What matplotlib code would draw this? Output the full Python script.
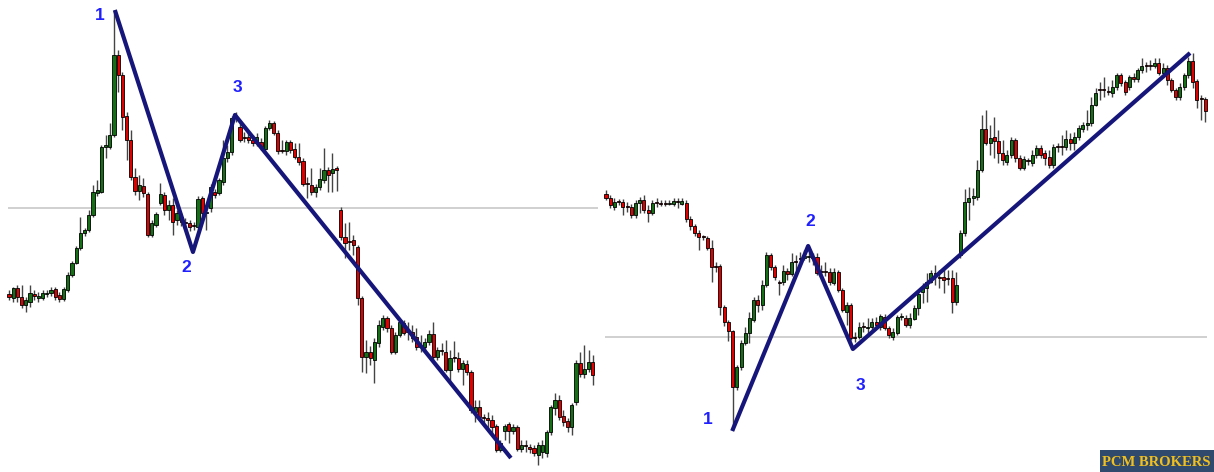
import matplotlib
matplotlib.use("Agg")
import matplotlib.pyplot as plt
from matplotlib.patches import Rectangle
import numpy as np

# ---- left chart (down move) : price units, one candle per index ----
left_open = [206, 202, 212, 203, 195, 198, 206, 202, 202, 206, 207, 211, 205, 201, 210, 225, 237, 252, 267, 270,
             285, 307, 308, 353, 353, 365, 445, 425, 384, 360, 323, 309, 314, 306, 265, 275, 297, 305, 290, 295,
             280, 283, 277, 277, 274, 273, 302, 287, 292, 308, 307, 318, 342, 348, 382, 373, 362, 363, 360, 357,
             358, 351, 372, 377, 367, 349, 349, 358, 351, 343, 339, 316, 315, 308, 313, 320, 330, 327, 332, 290,
             263, 258, 260, 253, 202, 143, 148, 140, 157, 173, 182, 172, 148, 165, 177, 168, 168, 163, 153, 153,
             158, 166, 143, 149, 148, 130, 142, 142, 131, 136, 128, 88, 93, 82, 82, 80, 74, 50, 69, 76,
             69, 73, 51, 54, 53, 52, 45, 48, 47, 68, 92, 100, 84, 79, 73, 98, 137, 126, 131, 138]
left_close = [203, 212, 203, 195, 200, 207, 204, 204, 207, 207, 210, 203, 201, 211, 225, 237, 252, 267, 270, 285,
              308, 310, 353, 355, 365, 445, 425, 383, 360, 323, 309, 315, 307, 265, 277, 286, 306, 290, 295, 278,
              287, 278, 276, 273, 273, 301, 287, 288, 313, 305, 320, 342, 348, 382, 383, 360, 361, 360, 357, 363,
              353, 372, 377, 367, 349, 348, 358, 350, 343, 338, 316, 315, 308, 313, 321, 330, 325, 331, 330, 263,
              257, 257, 255, 202, 143, 148, 142, 158, 175, 182, 172, 148, 165, 178, 167, 167, 162, 153, 152, 158,
              166, 143, 150, 148, 130, 142, 141, 131, 137, 128, 90, 93, 83, 81, 80, 73, 50, 57, 74, 69,
              73, 51, 55, 53, 51, 47, 55, 55, 68, 93, 100, 83, 78, 73, 95, 137, 126, 131, 138, 125]
left_high = [210, 213, 215, 215, 203, 215, 210, 208, 210, 210, 213, 213, 208, 213, 228, 239, 254, 283, 272, 290,
             315, 320, 355, 365, 377, 490, 450, 428, 388, 370, 332, 325, 322, 308, 280, 288, 317, 308, 300, 302,
             290, 287, 282, 280, 278, 304, 304, 295, 316, 311, 322, 360, 355, 384, 388, 380, 368, 370, 365, 367,
             362, 374, 380, 379, 370, 360, 360, 360, 357, 357, 342, 323, 332, 316, 332, 352, 333, 347, 334, 293,
             277, 278, 265, 255, 204, 160, 154, 162, 180, 185, 184, 175, 168, 180, 180, 178, 175, 172, 165, 162,
             170, 178, 153, 157, 160, 150, 159, 148, 140, 140, 130, 100, 100, 86, 88, 85, 76, 60, 76, 78,
             76, 75, 60, 60, 56, 55, 58, 60, 70, 95, 107, 105, 90, 82, 97, 140, 148, 155, 150, 145]
left_low = [200, 198, 198, 192, 188, 193, 200, 198, 200, 203, 204, 200, 198, 199, 208, 223, 236, 250, 264, 268,
            283, 304, 307, 342, 351, 363, 408, 370, 340, 320, 305, 300, 303, 263, 263, 273, 295, 285, 280, 265,
            275, 274, 270, 269, 270, 271, 284, 270, 288, 302, 305, 315, 338, 345, 378, 358, 358, 357, 354, 354,
            350, 349, 370, 365, 346, 347, 345, 347, 341, 335, 314, 302, 305, 303, 310, 317, 308, 308, 309, 260,
            242, 250, 245, 195, 128, 127, 135, 117, 153, 170, 168, 146, 146, 163, 165, 160, 158, 150, 148, 150,
            155, 140, 140, 145, 128, 117, 138, 128, 115, 125, 87, 78, 80, 77, 70, 65, 48, 48, 60, 57,
            66, 49, 48, 48, 47, 44, 35, 42, 43, 65, 85, 80, 74, 68, 65, 95, 123, 122, 128, 115]

# ---- right chart (up move) ----
right_open = [306, 302, 293, 298, 298, 293, 293, 285, 297, 300, 290, 287, 297, 296, 296, 296, 296, 298, 296, 297,
              281, 274, 267, 263, 262, 252, 233, 234, 193, 178, 169, 113, 133, 157, 167, 180, 200, 195, 215, 245,
              233, 217, 218, 229, 226, 238, 241, 242, 243, 242, 243, 228, 228, 228, 217, 228, 210, 188, 195, 162,
              163, 173, 172, 173, 178, 173, 183, 172, 163, 167, 183, 182, 175, 181, 192, 208, 212, 218, 226, 222,
              223, 221, 222, 198, 245, 267, 298, 302, 303, 330, 371, 357, 363, 359, 347, 338, 345, 360, 342, 332,
              339, 337, 345, 352, 347, 343, 335, 353, 353, 353, 361, 357, 363, 371, 375, 377, 395, 410, 410, 408,
              407, 413, 425, 418, 413, 423, 421, 430, 434, 434, 434, 437, 427, 432, 420, 410, 403, 413, 425, 439,
              419, 401, 401]
right_close = [302, 295, 298, 297, 293, 292, 285, 297, 300, 290, 287, 297, 296, 295, 295, 297, 299, 297, 299, 281,
               274, 267, 263, 262, 252, 233, 232, 193, 178, 169, 113, 133, 157, 167, 182, 200, 195, 215, 245, 233,
               223, 216, 229, 226, 238, 237, 240, 244, 244, 241, 227, 227, 227, 218, 228, 210, 190, 195, 162, 161,
               173, 172, 173, 178, 175, 184, 172, 165, 168, 183, 184, 175, 182, 192, 206, 212, 218, 227, 225, 221,
               220, 220, 198, 215, 267, 298, 302, 304, 330, 371, 357, 362, 359, 347, 340, 345, 360, 342, 332, 341,
               338, 345, 352, 345, 342, 335, 353, 352, 352, 361, 357, 363, 372, 375, 377, 395, 407, 409, 409, 407,
               413, 425, 417, 408, 423, 421, 430, 434, 433, 433, 437, 427, 432, 420, 410, 403, 413, 425, 439, 418,
               400, 400, 389]
right_high = [310, 305, 302, 301, 301, 298, 296, 300, 303, 305, 295, 300, 302, 300, 300, 300, 302, 302, 302, 300,
              284, 276, 270, 265, 264, 260, 238, 236, 195, 180, 170, 135, 160, 173, 188, 203, 205, 220, 248, 247,
              235, 220, 235, 232, 247, 245, 248, 250, 248, 247, 247, 235, 238, 232, 232, 230, 212, 198, 197, 168,
              178, 178, 182, 182, 183, 186, 186, 174, 172, 185, 187, 185, 187, 195, 210, 217, 227, 230, 235, 230,
              232, 230, 230, 228, 270, 311, 313, 312, 340, 385, 390, 375, 383, 370, 360, 350, 363, 362, 345, 344,
              342, 350, 355, 355, 350, 350, 356, 357, 365, 370, 367, 368, 375, 378, 390, 403, 412, 418, 423, 414,
              420, 427, 427, 420, 425, 427, 432, 442, 438, 440, 442, 442, 437, 435, 422, 412, 417, 427, 443, 447,
              421, 405, 403]
right_low = [300, 292, 290, 295, 285, 288, 282, 282, 287, 287, 278, 285, 293, 294, 294, 295, 294, 292, 295, 278,
             270, 264, 250, 260, 250, 218, 228, 185, 174, 159, 70, 110, 130, 155, 157, 178, 188, 190, 213, 230,
             220, 205, 215, 220, 224, 230, 238, 240, 238, 235, 225, 225, 224, 215, 215, 208, 188, 175, 160, 158,
             161, 168, 166, 170, 172, 170, 170, 162, 160, 165, 180, 173, 172, 180, 185, 197, 198, 217, 215, 212,
             207, 215, 187, 195, 242, 264, 280, 295, 300, 328, 355, 345, 342, 337, 335, 335, 342, 338, 330, 330,
             335, 334, 342, 342, 335, 332, 332, 348, 345, 350, 350, 350, 360, 368, 370, 374, 394, 400, 403, 405,
             403, 410, 414, 405, 410, 418, 418, 427, 428, 430, 432, 425, 425, 415, 408, 400, 400, 410, 422, 412,
             392, 380, 378]

# wave points (candle index, price) and their labels
left_wave_x = [25.2, 43.8, 53.8, 119.5]
left_wave_y = [490, 248, 385, 42]
left_labels = ["1", "2", "3"]
left_label_x = [21.7, 42.1, 54.3]
left_label_y = [485, 232, 413]

right_wave_x = [29.9, 47.9, 58.5, 138.4]
right_wave_y = [69, 254, 151, 447]
right_labels = ["1", "2", "3"]
right_label_x = [24.2, 48.3, 60.2]
right_label_y = [80, 278, 115]

left_level = 292
right_level = 163

GREEN = "#157015"
RED = "#e00000"
NAVY = "#15157a"
BLUE = "#1f1fff"


def candles(ax, o, c, h, l):
    o = np.array(o, float)
    c = np.array(c, float)
    x = np.arange(len(o))
    ax.vlines(x, l, h, color="#444444", lw=1.0, zorder=1)
    body = c - o
    body = np.where(np.abs(body) < 1.2, 1.2, body)
    cols = [GREEN if cc >= oo else RED for oo, cc in zip(o, c)]
    ax.bar(x, body, bottom=o, width=0.72, color=cols, edgecolor="black",
           linewidth=0.6, zorder=2)


fig = plt.figure(figsize=(12.14, 4.72), dpi=100)

ax1 = fig.add_axes([0, 0, 601 / 1214, 1])
ax2 = fig.add_axes([602 / 1214, 0, 612 / 1214, 1])

ax1.set_xlim(-9 / 4.2, 592 / 4.2)
ax2.set_xlim(-4 / 4.22, 608 / 4.22)
for ax in (ax1, ax2):
    ax.set_ylim(28, 500)
    ax.axis("off")

ax1.hlines(left_level, -0.2, 140.2, color="#c8c8c8", lw=1.2, zorder=0)
ax2.hlines(right_level, -0.3, 142.4, color="#c8c8c8", lw=1.2, zorder=0)

candles(ax1, left_open, left_close, left_high, left_low)
candles(ax2, right_open, right_close, right_high, right_low)

ax1.plot(left_wave_x, left_wave_y, color=NAVY, lw=3.0, zorder=3, solid_capstyle="butt")
ax2.plot(right_wave_x, right_wave_y, color=NAVY, lw=3.0, zorder=3, solid_capstyle="butt")

for t, x, y in zip(left_labels, left_label_x, left_label_y):
    ax1.text(x, y, t, color=BLUE, fontsize=12.5, fontweight="bold", family="Liberation Sans",
             ha="center", va="center", zorder=4)
for t, x, y in zip(right_labels, right_label_x, right_label_y):
    ax2.text(x, y, t, color=BLUE, fontsize=12.5, fontweight="bold", family="Liberation Sans",
             ha="center", va="center", zorder=4)

# logo box bottom right
fig.patches.append(Rectangle((1100 / 1214, 0), 114 / 1214, 22 / 472, transform=fig.transFigure,
                             facecolor="#2f4a6c", edgecolor="none", zorder=5))
fig.text(1102 / 1214, 9 / 472, "PCM BROKERS", color="#f2c01e", fontsize=10.5, fontweight="bold",
         family="Liberation Serif", ha="left", va="center", zorder=6)

fig.savefig("out.png", dpi=100, facecolor="white")
